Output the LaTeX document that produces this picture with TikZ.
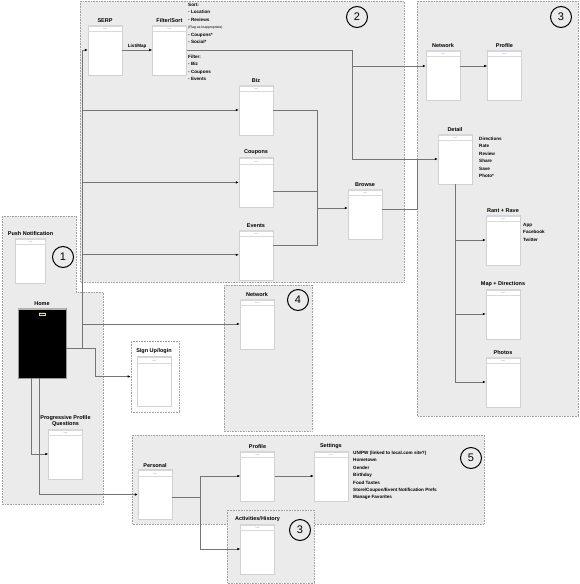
\documentclass[tikz,border=0pt]{standalone}
\usepackage{fontspec}
\setmainfont{Liberation Sans}
\usetikzlibrary{arrows.meta,positioning,calc}
\definecolor{FlowZone}{HTML}{EBEBEB}
\definecolor{FlowEdge}{HTML}{A0A0A0}
\definecolor{FlowWire}{HTML}{747474}
\definecolor{FlowBar}{HTML}{D3D8DE}
\definecolor{FlowLogo}{HTML}{8DA07A}
\definecolor{FlowGold}{HTML}{E8D890}
\tikzset{
  zone/.style={draw=FlowEdge, densely dotted, fill=FlowZone, line width=0.6pt},
  screen/.style={draw=black!18, fill=white, inner sep=0pt,
    minimum width=34pt, minimum height=50pt},
  homescreen/.style={draw=black!40, fill=black, inner sep=0pt,
    minimum width=48pt, minimum height=70pt},
  logo/.style={inner sep=0pt, font=\fontsize{1.8}{2}\selectfont, text=FlowLogo},
  title/.style={font=\bfseries\fontsize{5.5}{6.5}\selectfont, inner sep=1pt},
  note/.style={font=\bfseries\fontsize{4.6}{7.4}\selectfont, align=left,
    anchor=north west, inner sep=0pt},
  tag/.style={font=\bfseries\fontsize{4.6}{5}\selectfont, inner sep=1pt},
  badge/.style={circle, draw=black, line width=1pt, minimum size=21pt,
    inner sep=0pt, font=\fontsize{11}{11}\selectfont},
  link/.style={draw=FlowWire, line width=0.7pt},
  wire/.style={link, -{Latex[length=3pt, width=2.6pt, color=black]}}
}

\begin{document}
\begin{tikzpicture}[x=1pt, y=-1pt, label distance=1pt]
  \useasboundingbox (0,0) rectangle (580,584);
  \draw[zone] (80,1) rectangle (404,282);
  \draw[zone] (417,1) rectangle (578,416);
  \draw[zone] (2,216) -- (76,216) -- (76,292) -- (103,292) -- (103,504) -- (2,504) -- cycle;
  \draw[zone] (224,285) rectangle (312,431);
  \draw[zone] (132,435) rectangle (484,524);
  \draw[zone] (227,510) rectangle (314,583);
  \node[zone, fill=white, minimum width=48pt, minimum height=71pt, inner sep=0pt] (signupbox) at (155,376.5) {};

  \node[screen, label={[title]above:SERP}] (serp) at (105,50) {};
  \node[screen, right=30pt of serp, label={[title]above:Filter/Sort}] (filter) {};
  \node[screen, label={[title]above:Biz}] (biz) at (256,110) {};
  \node[screen, below=22pt of biz, label={[title]above:Coupons}] (coupons) {};
  \node[screen, below=22pt of coupons, label={[title]above:Events}] (events) {};
  \node[screen, label={[title]above:Browse}] (browse) at (365,214) {};
  \node[screen, label={[title]above:Network}] (netthree) at (443,75) {};
  \node[screen, right=27pt of netthree, label={[title]above:Profile}] (profthree) {};
  \node[screen, label={[title]above:Detail}] (detail) at (455,159) {};
  \node[screen, label={[title]above:Rant + Rave}] (rant) at (503,240) {};
  \node[screen, label={[title]above:Map + Directions}] (mapdir) at (503,314) {};
  \node[screen, label={[title]above:Photos}] (photos) at (503,382) {};
  \node[screen, minimum width=30pt, minimum height=45pt, label={[title]above:Push Notification}] (push) at (30.5,260.5) {};
  \node[homescreen, label={[title]above:Home}] (home) at (42,343) {};
  \node[screen, label={[title]above:Sign Up/login}] (signup) at (154,381.5) {};
  \node[screen, label={[title]above:Network}] (netfour) at (257,324) {};
  \node[screen, label={[title, align=center]above:{Progressive Profile\\Questions}}] (progq) at (65.5,454) {};
  \node[screen, label={[title]above:Personal}] (personal) at (155,494.5) {};
  \node[screen, label={[title]above:Profile}] (profive) at (257.5,476) {};
  \node[screen, right=39pt of profive, label={[title]above:Settings}] (settings) {};
  \node[screen, label={[title]above:Activities/History}] (activ) at (257.5,549) {};

  \foreach \s in {serp,filter,biz,coupons,events,browse,netthree,profthree,detail,rant,mapdir,photos,push,signup,netfour,progq,personal,profive,settings,activ} {
    \fill[FlowBar] ([shift={(0.4pt,-0.4pt)}]\s.north west) rectangle ([shift={(-0.4pt,-2pt)}]\s.north east);
    \draw[black!15, line width=0.3pt] ([yshift=-6.5pt]\s.north west) -- ([yshift=-6.5pt]\s.north east);
    \node[logo] at ([yshift=-4.3pt]\s.north) {local};
  }
  \fill[black!30] ([shift={(0.4pt,-0.4pt)}]home.north west) rectangle ([shift={(-0.4pt,-2.5pt)}]home.north east);
  \node[logo, draw=FlowGold, line width=0.2pt, inner sep=0.4pt, text=FlowGold, font=\fontsize{2.6}{3}\selectfont] at ([yshift=-6.2pt]home.north) {local};

  \node[note] (sortlist) at (188,3) {Sort:\\- Location\\- Reviews\\{\mdseries\fontsize{3.4}{7.4}\selectfont (Flag as Inappropriate)}\\- Coupons*\\- Social*};
  \node[note] (filterlist) at (188,55) {Filter:\\- Biz\\- Coupons\\- Events};
  \node[note] (detaillist) at (479,137) {Directions\\Rate\\Review\\Share\\Save\\Photo*};
  \node[note] (rantlist) at (523,223) {App\\Facebook\\Twitter};
  \node[note] (settinglist) at (353,451) {UN/PW (linked to local.com site?)\\Hometown\\Gender\\Birthday\\Food Tastes\\Store/Coupon/Event Notification Prefs\\Manage Favorites};

  \node[badge] (one) at (63,257) {1};
  \node[badge] (two) at (357,17) {2};
  \node[badge] (three) at (561,17) {3};
  \node[badge] (four) at (298,300) {4};
  \node[badge] (five) at (471,458) {5};
  \node[badge] (threeb) at (300,530) {3};

  \coordinate (hub) at (82,348);
  \coordinate (jog) at (95,348);
  \draw[link] ([yshift=-5pt]home.east) -- (jog);
  \draw[wire] (hub) |- (serp.west);
  \draw[wire] (hub |- biz.west) -- (biz.west);
  \draw[wire] (hub |- coupons.west) -- (coupons.west);
  \draw[wire] (hub |- events.west) -- (events.west);
  \draw[wire] (hub |- netfour.west) -- (netfour.west);
  \draw[wire] (jog) |- (signupbox.west);
  \draw[wire] ([xshift=-11pt]home.south) |- (progq.west);
  \draw[wire] ([xshift=-3pt]home.south) |- (personal.west);
  \draw[wire] (serp) -- node[tag, above]{List/Map} (filter);

  \coordinate (fturn) at (352,50);
  \coordinate (netin) at ([yshift=9pt]netthree.west);
  \coordinate (profin) at ([yshift=9pt]profthree.west);
  \draw[wire] (filter.east) -- (fturn) |- (detail.west);
  \draw[wire] (fturn |- netin) -- (netin);
  \draw[wire] (netthree.east |- netin) -- (profin);

  \coordinate (bturn) at (417,209);
  \draw[link] ([yshift=5pt]browse.east) -- (bturn) -- (bturn |- detail.west);

  \coordinate (mturn) at (317,208);
  \coordinate (couponsout) at ([yshift=-9pt]coupons.east);
  \coordinate (eventsout) at ([yshift=9pt]events.east);
  \draw[link] (biz.east) -| (mturn);
  \draw[link] (couponsout) -- (couponsout -| mturn);
  \draw[link] (eventsout) -| (mturn);
  \draw[wire] (mturn) -- (mturn -| browse.west);

  \draw[wire] (detail.south) |- (rant.west);
  \draw[wire] (detail.south) |- (mapdir.west);
  \draw[wire] (detail.south) |- (photos.west);

  \coordinate (pturn) at (200,497);
  \draw[link] ([yshift=-2.5pt]personal.east) -- (pturn);
  \draw[wire] (pturn) |- (profive.west);
  \draw[wire] (pturn) |- (activ.west);
  \draw[wire] (profive) -- (settings);
\end{tikzpicture}
\end{document}
